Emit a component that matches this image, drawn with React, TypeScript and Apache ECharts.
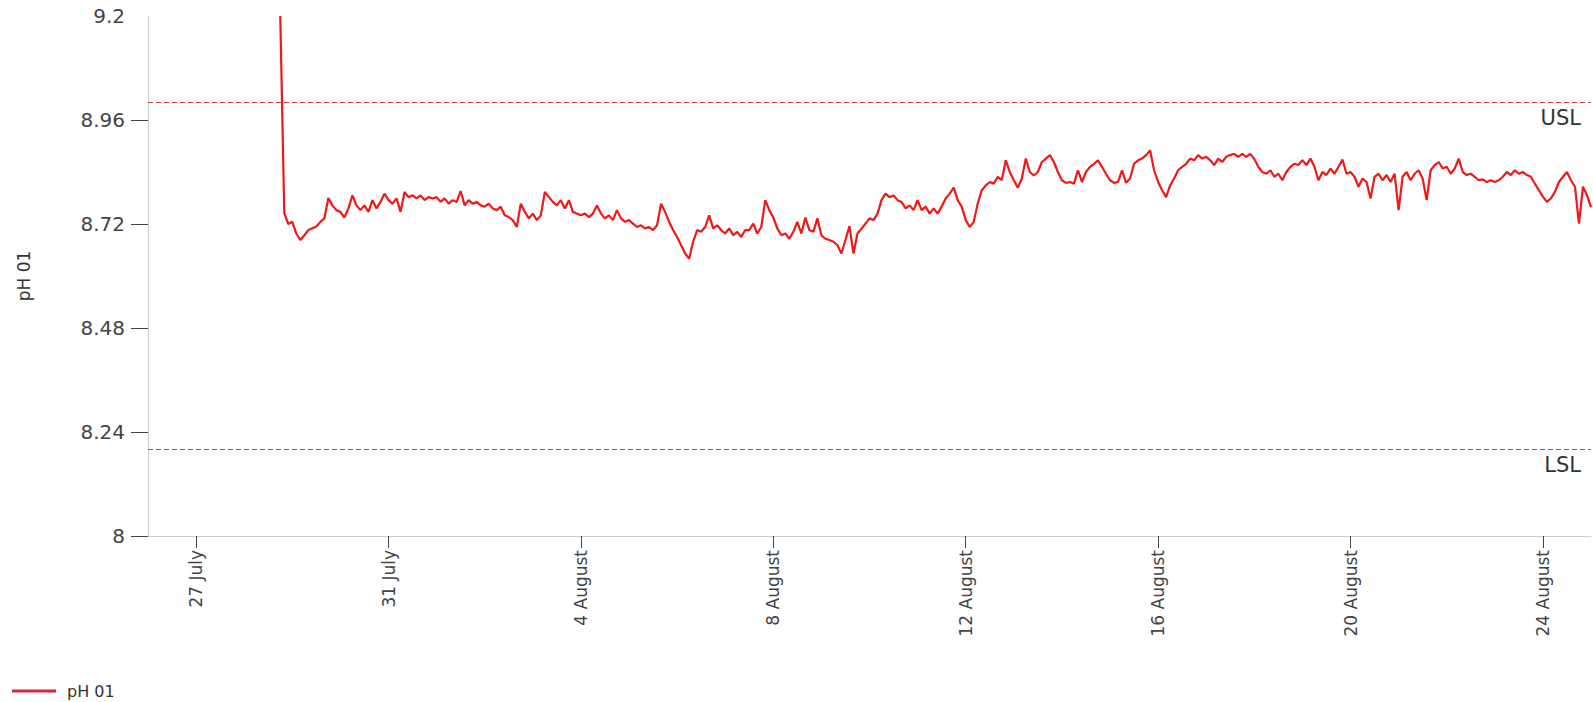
import { useEffect, useRef } from 'react';
import * as echarts from 'echarts';

// pH probe 01, one reading every two hours from the first sample onwards
const SERIES_NAME = 'pH 01';
const FIRST_READING = '2023-07-28T18:00:00Z';
const READING_STEP_HOURS = 2;
const ph01Readings: number[] = [
  // 28 Jul (from 18:00)
  9.2, 8.745, 8.72,
  // 29 Jul
  8.725, 8.698, 8.683, 8.694, 8.706, 8.71, 8.714, 8.725, 8.733, 8.78, 8.763, 8.752,
  // 30 Jul
  8.748, 8.735, 8.756, 8.786, 8.763, 8.752, 8.763, 8.748, 8.775, 8.756, 8.771, 8.79,
  // 31 Jul
  8.775, 8.767, 8.779, 8.748, 8.794, 8.782, 8.786, 8.779, 8.786, 8.775, 8.782, 8.779,
  // 1 Aug
  8.782, 8.771, 8.779, 8.767, 8.775, 8.771, 8.796, 8.763, 8.775, 8.767, 8.771, 8.763,
  // 2 Aug
  8.76, 8.767, 8.756, 8.752, 8.76, 8.74, 8.736, 8.729, 8.713, 8.767, 8.748, 8.733,
  // 3 Aug
  8.744, 8.729, 8.74, 8.794, 8.782, 8.771, 8.763, 8.775, 8.756, 8.775, 8.748, 8.744,
  // 4 Aug
  8.74, 8.744, 8.736, 8.744, 8.763, 8.744, 8.733, 8.74, 8.729, 8.752, 8.733, 8.725,
  // 5 Aug
  8.729, 8.721, 8.713, 8.717, 8.71, 8.713, 8.706, 8.717, 8.767, 8.748, 8.725, 8.706,
  // 6 Aug
  8.69, 8.671, 8.652, 8.64, 8.679, 8.706, 8.702, 8.713, 8.74, 8.71, 8.717, 8.706,
  // 7 Aug
  8.698, 8.71, 8.694, 8.702, 8.69, 8.706, 8.706, 8.721, 8.698, 8.713, 8.775, 8.752,
  // 8 Aug
  8.735, 8.71, 8.694, 8.698, 8.686, 8.702, 8.725, 8.698, 8.735, 8.706, 8.702, 8.733,
  // 9 Aug
  8.694, 8.686, 8.683, 8.679, 8.671, 8.652, 8.683, 8.715, 8.652, 8.698, 8.709, 8.721,
  // 10 Aug
  8.733, 8.729, 8.744, 8.775, 8.79, 8.782, 8.786, 8.775, 8.771, 8.756, 8.763, 8.752,
  // 11 Aug
  8.775, 8.752, 8.76, 8.744, 8.756, 8.744, 8.76, 8.779, 8.79, 8.804, 8.775, 8.76,
  // 12 Aug
  8.729, 8.713, 8.725, 8.767, 8.798, 8.809, 8.817, 8.813, 8.829, 8.821, 8.867, 8.84,
  // 13 Aug
  8.821, 8.804, 8.825, 8.871, 8.84, 8.832, 8.84, 8.863, 8.871, 8.879, 8.863, 8.84,
  // 14 Aug
  8.821, 8.815, 8.817, 8.813, 8.844, 8.817, 8.84, 8.852, 8.859, 8.867, 8.852, 8.836,
  // 15 Aug
  8.821, 8.815, 8.817, 8.844, 8.815, 8.825, 8.859, 8.867, 8.871, 8.879, 8.89, 8.844,
  // 16 Aug
  8.817, 8.798, 8.782, 8.809, 8.825, 8.844, 8.852, 8.859, 8.871, 8.867, 8.879, 8.871,
  // 17 Aug
  8.875, 8.867, 8.856, 8.871, 8.863, 8.875, 8.879, 8.882, 8.875, 8.882, 8.875, 8.882,
  // 18 Aug
  8.87, 8.852, 8.84, 8.836, 8.844, 8.829, 8.836, 8.821, 8.84, 8.852, 8.859, 8.856,
  // 19 Aug
  8.867, 8.856, 8.871, 8.852, 8.821, 8.84, 8.833, 8.848, 8.836, 8.852, 8.869, 8.836,
  // 20 Aug
  8.84, 8.829, 8.806, 8.825, 8.817, 8.779, 8.829, 8.836, 8.821, 8.833, 8.817, 8.836,
  // 21 Aug
  8.752, 8.829, 8.84, 8.821, 8.836, 8.844, 8.825, 8.775, 8.844, 8.856, 8.863, 8.848,
  // 22 Aug
  8.852, 8.836, 8.848, 8.871, 8.84, 8.833, 8.836, 8.829, 8.821, 8.823, 8.817, 8.821,
  // 23 Aug
  8.817, 8.821, 8.829, 8.84, 8.833, 8.844, 8.836, 8.84, 8.833, 8.829, 8.813, 8.798,
  // 24 Aug
  8.783, 8.771, 8.779, 8.794, 8.817, 8.829, 8.84, 8.821, 8.806, 8.721, 8.806, 8.786,
  // 25 Aug
  8.759,
];

// specification limits
const USL = 9.0;
const LSL = 8.2;

// axes
const X_START = '2023-07-26T00:00:00Z';
const X_END = '2023-08-25T00:00:00Z';
const xTickDates = [
  '2023-07-27', '2023-07-31', '2023-08-04', '2023-08-08',
  '2023-08-12', '2023-08-16', '2023-08-20', '2023-08-24',
];
const Y_MIN = 8;
const Y_MAX = 9.2;
const Y_STEP = 0.24;
const yTickMarks = [8, 8.24, 8.48, 8.72, 8.96];

const MONTH_NAMES = [
  'January', 'February', 'March', 'April', 'May', 'June',
  'July', 'August', 'September', 'October', 'November', 'December',
];

const FONT = '"DejaVu Sans", Verdana, sans-serif';

function formatDay(value: number): string {
  const d = new Date(value);
  return `${d.getUTCDate()} ${MONTH_NAMES[d.getUTCMonth()]}`;
}

export default function App() {
  const ref = useRef<HTMLDivElement>(null);

  useEffect(() => {
    if (!ref.current) return;
    const chart = echarts.init(ref.current, undefined, { renderer: 'svg' });

    const t0 = Date.parse(FIRST_READING);
    const step = READING_STEP_HOURS * 3600 * 1000;
    const seriesData = ph01Readings.map((v, i) => [t0 + i * step, v]);
    const xTicks = xTickDates.map((d) => Date.parse(d + 'T00:00:00Z'));

    chart.setOption({
      animation: false,
      backgroundColor: '#ffffff',
      textStyle: { fontFamily: FONT },
      grid: { left: 148, right: 2, top: 16, bottom: 166 },
      legend: {
        left: 12,
        top: 683,
        padding: 0,
        icon: 'rect',
        itemWidth: 44,
        itemHeight: 3,
        textStyle: { fontSize: 16, color: '#333', fontFamily: FONT, padding: [0, 0, 0, 6] },
        data: [SERIES_NAME],
      },
      xAxis: {
        type: 'value',
        min: Date.parse(X_START),
        max: Date.parse(X_END),
        axisLine: { show: true, onZero: false, lineStyle: { color: '#cccccc', width: 1 } },
        axisTick: { show: true, length: 12, customValues: xTicks, lineStyle: { color: '#444' } },
        axisLabel: {
          customValues: xTicks,
          rotate: 90,
          margin: 14,
          fontSize: 17,
          color: '#444',
          fontFamily: FONT,
          formatter: (v: number) => formatDay(v),
        },
        splitLine: { show: false },
      },
      yAxis: {
        type: 'value',
        min: Y_MIN,
        max: Y_MAX,
        interval: Y_STEP,
        name: SERIES_NAME,
        nameLocation: 'middle',
        nameGap: 116,
        nameTextStyle: { fontSize: 17, color: '#333', fontFamily: FONT },
        axisLine: { show: true, lineStyle: { color: '#cccccc', width: 1 } },
        axisTick: { show: true, length: 17, customValues: yTickMarks, lineStyle: { color: '#444' } },
        axisLabel: { fontSize: 20, color: '#444', margin: 23, fontFamily: FONT },
        splitLine: { show: false },
      },
      series: [
        {
          type: 'line',
          name: SERIES_NAME,
          data: seriesData,
          symbol: 'none',
          showSymbol: false,
          clip: true,
          lineStyle: { color: '#f01818', width: 2.2 },
          itemStyle: { color: '#d42a36' },
          markLine: {
            silent: true,
            symbol: 'none',
            lineStyle: { type: [5, 3], color: '#c8404e', width: 1 },
            label: {
              position: 'insideEndBottom',
              formatter: '{b}',
              fontSize: 21,
              color: '#333',
              fontFamily: FONT,
              distance: [10, 5],
            },
            data: [
              { name: 'USL', yAxis: USL },
              { name: 'LSL', yAxis: LSL },
            ],
          },
        },
      ],
    });

    return () => chart.dispose();
  }, []);

  return (
    <div
      ref={ref}
      style={{ position: 'fixed', left: 0, top: 0, width: 1593, height: 702 }}
    />
  );
}
